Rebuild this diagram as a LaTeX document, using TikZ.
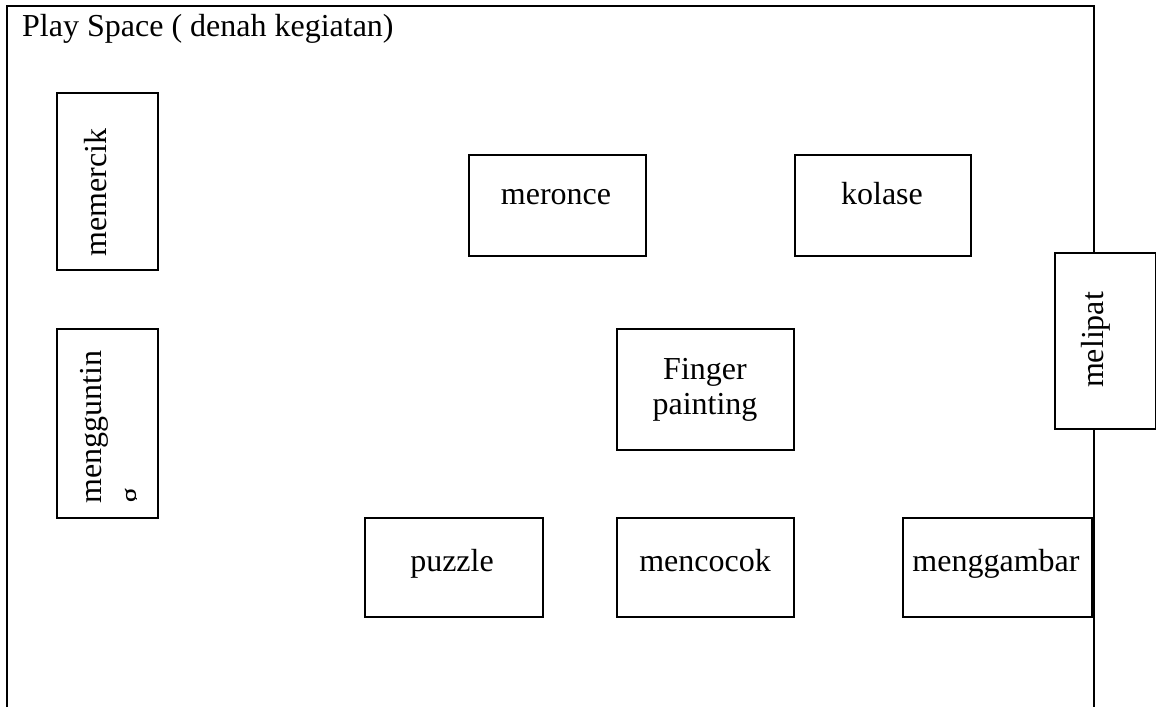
\documentclass[tikz,border=0pt]{standalone}
\usepackage{fontspec}
\setmainfont{Liberation Serif}
\begin{document}
\begin{tikzpicture}[x=1pt,y=-1pt,
  box/.style={draw=black, line width=1.7pt, fill=white, rectangle, inner sep=0pt, anchor=north west},
  lbl/.style={font=\fontsize{32}{36.8}\selectfont, inner sep=0pt},
  frame/.style={draw=black, line width=2pt}]
\useasboundingbox (0,0) rectangle (1156,707);
\fill[white] (0,0) rectangle (1156,707);
% outer frame (open at the bottom)
\coordinate (fbl) at (7,707);
\coordinate (ftl) at (7,6);
\coordinate (ftr) at (1094,6);
\coordinate (fbr) at (1094,707);
\draw[frame] (fbl) -- (ftl) -- (ftr) -- (fbr);
\node[lbl, anchor=base west] (title) at (22,36) {Play Space ( denah kegiatan)};
% boxes
\node[box, minimum width=101pt, minimum height=177pt] (bmemercik) at (56,92) {};
\node[box, minimum width=101pt, minimum height=189pt] (bmenggunting) at (56,328) {};
\node[box, minimum width=177pt, minimum height=101pt] (bmeronce) at (468,154) {};
\node[box, minimum width=176pt, minimum height=101pt] (bkolase) at (794,154) {};
\node[box, minimum width=177pt, minimum height=121pt] (bfinger) at (616,328) {};
\node[box, minimum width=101pt, minimum height=176pt] (bmelipat) at (1054,252) {};
\node[box, minimum width=178pt, minimum height=99pt] (bpuzzle) at (364,517) {};
\node[box, minimum width=177pt, minimum height=99pt] (bmencocok) at (616,517) {};
\node[box, minimum width=189pt, minimum height=99pt] (bmenggambar) at (902,517) {};
% texts
\node[lbl, rotate=90, anchor=base west] (tmemercik) at (106,257) {memercik};
\node[lbl, rotate=90, anchor=base west] (tmenggunting) at (101,504) {mengguntin};
\begin{scope}
\clip (56,328) rectangle (136,517);
\node[lbl, rotate=90, anchor=base west] (tmengg2) at (141,504) {g};
\end{scope}
\node[lbl, anchor=base] (tmeronce) at (556,204) {meronce};
\node[lbl, anchor=base] (tkolase) at (882,204) {kolase};
\node[lbl, anchor=base] (tfinger1) at (705,379) {Finger};
\node[lbl, anchor=base] (tfinger2) at (705,414) {painting};
\node[lbl, rotate=90, anchor=base] (tmelipat) at (1103,340) {melipat};
\node[lbl, anchor=base] (tpuzzle) at (452,571) {puzzle};
\node[lbl, anchor=base] (tmencocok) at (705,571) {mencocok};
\node[lbl, anchor=base] (tmenggambar) at (996,571) {menggambar};
\end{tikzpicture}
\end{document}
